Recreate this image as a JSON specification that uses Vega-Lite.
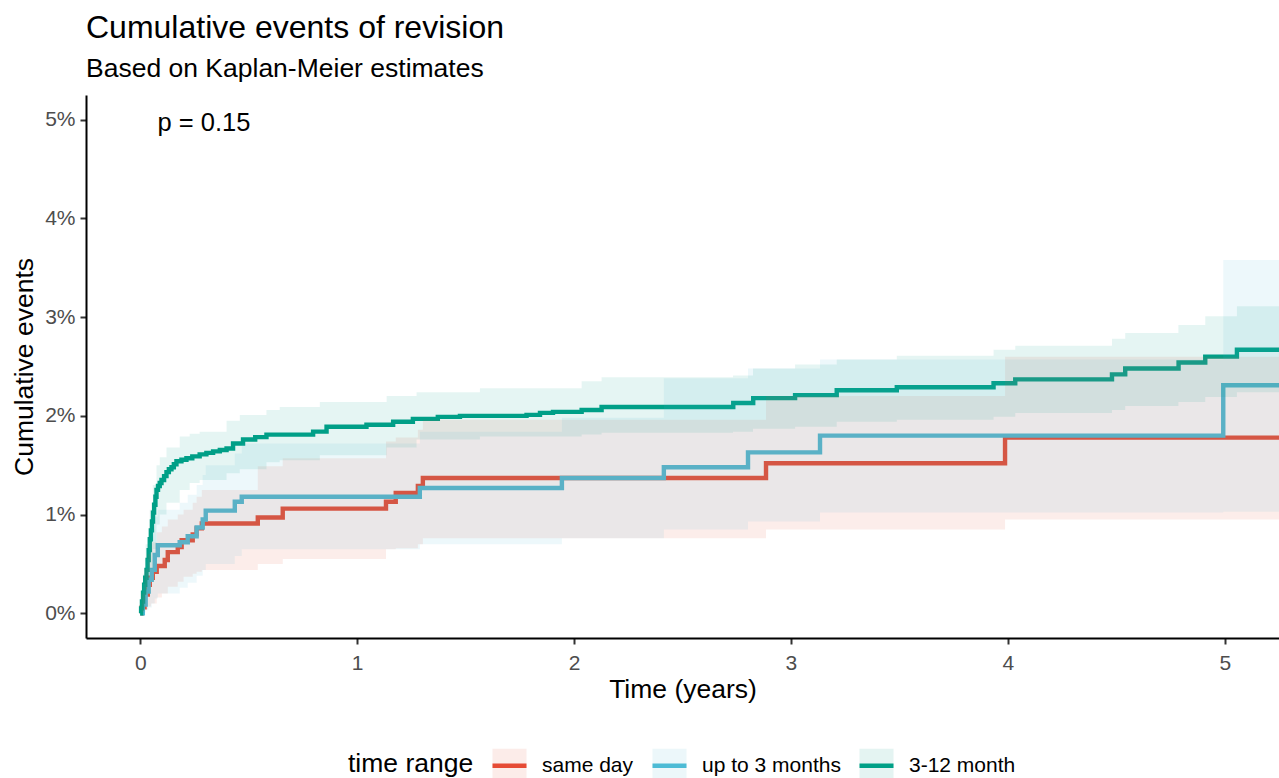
{
  "$schema": "https://vega.github.io/schema/vega-lite/v6.json",
  "autosize": "none",
  "width": 1193,
  "height": 543,
  "padding": {"left": 86, "top": 95, "right": 0, "bottom": 140},
  "background": "white",
  "title": {
    "text": "Cumulative events of revision",
    "subtitle": "Based on Kaplan-Meier estimates",
    "anchor": "start",
    "frame": "group",
    "font": "Liberation Sans",
    "fontSize": 32,
    "fontWeight": "normal",
    "color": "#000000",
    "subtitleFont": "Liberation Sans",
    "subtitleFontSize": 26.5,
    "subtitleColor": "#000000",
    "subtitlePadding": 11,
    "offset": 12
  },
  "datasets": {
    "lines": [
      {"g": "same day", "t": 0, "v": 0},
      {"g": "same day", "t": 0.007, "v": 0.06},
      {"g": "same day", "t": 0.02, "v": 0.19},
      {"g": "same day", "t": 0.035, "v": 0.29},
      {"g": "same day", "t": 0.044, "v": 0.36},
      {"g": "same day", "t": 0.058, "v": 0.42},
      {"g": "same day", "t": 0.076, "v": 0.48},
      {"g": "same day", "t": 0.113, "v": 0.54},
      {"g": "same day", "t": 0.127, "v": 0.62},
      {"g": "same day", "t": 0.173, "v": 0.67},
      {"g": "same day", "t": 0.191, "v": 0.74},
      {"g": "same day", "t": 0.242, "v": 0.8},
      {"g": "same day", "t": 0.26, "v": 0.86},
      {"g": "same day", "t": 0.284, "v": 0.91},
      {"g": "same day", "t": 0.542, "v": 0.97},
      {"g": "same day", "t": 0.657, "v": 1.06},
      {"g": "same day", "t": 1.133, "v": 1.13},
      {"g": "same day", "t": 1.178, "v": 1.22},
      {"g": "same day", "t": 1.28, "v": 1.29},
      {"g": "same day", "t": 1.303, "v": 1.37},
      {"g": "same day", "t": 2.885, "v": 1.52},
      {"g": "same day", "t": 3.987, "v": 1.78},
      {"g": "same day", "t": 5.25, "v": 1.78},
      {"g": "up to 3 months", "t": 0, "v": 0},
      {"g": "up to 3 months", "t": 0.012, "v": 0.09},
      {"g": "up to 3 months", "t": 0.025, "v": 0.22},
      {"g": "up to 3 months", "t": 0.039, "v": 0.34},
      {"g": "up to 3 months", "t": 0.053, "v": 0.44},
      {"g": "up to 3 months", "t": 0.067, "v": 0.59},
      {"g": "up to 3 months", "t": 0.081, "v": 0.69},
      {"g": "up to 3 months", "t": 0.182, "v": 0.72},
      {"g": "up to 3 months", "t": 0.219, "v": 0.78},
      {"g": "up to 3 months", "t": 0.26, "v": 0.87},
      {"g": "up to 3 months", "t": 0.288, "v": 0.95},
      {"g": "up to 3 months", "t": 0.302, "v": 1.04},
      {"g": "up to 3 months", "t": 0.436, "v": 1.13},
      {"g": "up to 3 months", "t": 0.468, "v": 1.18},
      {"g": "up to 3 months", "t": 1.289, "v": 1.27},
      {"g": "up to 3 months", "t": 1.944, "v": 1.37},
      {"g": "up to 3 months", "t": 2.414, "v": 1.48},
      {"g": "up to 3 months", "t": 2.802, "v": 1.63},
      {"g": "up to 3 months", "t": 3.134, "v": 1.8},
      {"g": "up to 3 months", "t": 4.993, "v": 2.31},
      {"g": "up to 3 months", "t": 5.25, "v": 2.31},
      {"g": "3-12 month", "t": 0, "v": 0},
      {"g": "3-12 month", "t": 0.004, "v": 0.05},
      {"g": "3-12 month", "t": 0.008, "v": 0.12},
      {"g": "3-12 month", "t": 0.013, "v": 0.21},
      {"g": "3-12 month", "t": 0.018, "v": 0.29},
      {"g": "3-12 month", "t": 0.023, "v": 0.36},
      {"g": "3-12 month", "t": 0.029, "v": 0.44},
      {"g": "3-12 month", "t": 0.034, "v": 0.54},
      {"g": "3-12 month", "t": 0.039, "v": 0.64},
      {"g": "3-12 month", "t": 0.044, "v": 0.75},
      {"g": "3-12 month", "t": 0.049, "v": 0.84},
      {"g": "3-12 month", "t": 0.054, "v": 0.93},
      {"g": "3-12 month", "t": 0.059, "v": 1.02},
      {"g": "3-12 month", "t": 0.064, "v": 1.1},
      {"g": "3-12 month", "t": 0.07, "v": 1.18},
      {"g": "3-12 month", "t": 0.075, "v": 1.25},
      {"g": "3-12 month", "t": 0.082, "v": 1.29},
      {"g": "3-12 month", "t": 0.09, "v": 1.32},
      {"g": "3-12 month", "t": 0.098, "v": 1.35},
      {"g": "3-12 month", "t": 0.11, "v": 1.39},
      {"g": "3-12 month", "t": 0.121, "v": 1.43},
      {"g": "3-12 month", "t": 0.132, "v": 1.46},
      {"g": "3-12 month", "t": 0.144, "v": 1.48},
      {"g": "3-12 month", "t": 0.155, "v": 1.51},
      {"g": "3-12 month", "t": 0.167, "v": 1.54},
      {"g": "3-12 month", "t": 0.19, "v": 1.555},
      {"g": "3-12 month", "t": 0.213, "v": 1.57},
      {"g": "3-12 month", "t": 0.24, "v": 1.59},
      {"g": "3-12 month", "t": 0.274, "v": 1.61},
      {"g": "3-12 month", "t": 0.305, "v": 1.625},
      {"g": "3-12 month", "t": 0.336, "v": 1.64},
      {"g": "3-12 month", "t": 0.367, "v": 1.655},
      {"g": "3-12 month", "t": 0.398, "v": 1.67},
      {"g": "3-12 month", "t": 0.428, "v": 1.72},
      {"g": "3-12 month", "t": 0.474, "v": 1.76},
      {"g": "3-12 month", "t": 0.53, "v": 1.785},
      {"g": "3-12 month", "t": 0.582, "v": 1.81},
      {"g": "3-12 month", "t": 0.797, "v": 1.84},
      {"g": "3-12 month", "t": 0.859, "v": 1.89},
      {"g": "3-12 month", "t": 1.043, "v": 1.91},
      {"g": "3-12 month", "t": 1.166, "v": 1.94},
      {"g": "3-12 month", "t": 1.257, "v": 1.97},
      {"g": "3-12 month", "t": 1.372, "v": 1.99},
      {"g": "3-12 month", "t": 1.474, "v": 2.0},
      {"g": "3-12 month", "t": 1.781, "v": 2.01},
      {"g": "3-12 month", "t": 1.843, "v": 2.03},
      {"g": "3-12 month", "t": 1.903, "v": 2.04},
      {"g": "3-12 month", "t": 2.035, "v": 2.06},
      {"g": "3-12 month", "t": 2.127, "v": 2.09},
      {"g": "3-12 month", "t": 2.734, "v": 2.13},
      {"g": "3-12 month", "t": 2.826, "v": 2.18},
      {"g": "3-12 month", "t": 3.019, "v": 2.21},
      {"g": "3-12 month", "t": 3.211, "v": 2.26},
      {"g": "3-12 month", "t": 3.488, "v": 2.29},
      {"g": "3-12 month", "t": 3.934, "v": 2.33},
      {"g": "3-12 month", "t": 4.034, "v": 2.37},
      {"g": "3-12 month", "t": 4.48, "v": 2.42},
      {"g": "3-12 month", "t": 4.541, "v": 2.48},
      {"g": "3-12 month", "t": 4.787, "v": 2.54},
      {"g": "3-12 month", "t": 4.91, "v": 2.6},
      {"g": "3-12 month", "t": 5.056, "v": 2.67},
      {"g": "3-12 month", "t": 5.25, "v": 2.67}
    ],
    "bands": [
      {"grp": "same day", "t": 0, "lo": 0, "hi": 0},
      {"grp": "same day", "t": 0.007, "lo": 0.01, "hi": 0.2},
      {"grp": "same day", "t": 0.02, "lo": 0.04, "hi": 0.45},
      {"grp": "same day", "t": 0.035, "lo": 0.07, "hi": 0.6},
      {"grp": "same day", "t": 0.05, "lo": 0.1, "hi": 0.72},
      {"grp": "same day", "t": 0.076, "lo": 0.16, "hi": 0.82},
      {"grp": "same day", "t": 0.1, "lo": 0.2, "hi": 0.88},
      {"grp": "same day", "t": 0.127, "lo": 0.27, "hi": 0.95},
      {"grp": "same day", "t": 0.173, "lo": 0.32, "hi": 1.0},
      {"grp": "same day", "t": 0.2, "lo": 0.37, "hi": 1.05},
      {"grp": "same day", "t": 0.242, "lo": 0.4, "hi": 1.12},
      {"grp": "same day", "t": 0.26, "lo": 0.42, "hi": 1.18},
      {"grp": "same day", "t": 0.284, "lo": 0.44, "hi": 1.25},
      {"grp": "same day", "t": 0.542, "lo": 0.5, "hi": 1.49},
      {"grp": "same day", "t": 0.657, "lo": 0.55, "hi": 1.57},
      {"grp": "same day", "t": 1.133, "lo": 0.65, "hi": 1.74},
      {"grp": "same day", "t": 1.178, "lo": 0.66, "hi": 1.78},
      {"grp": "same day", "t": 1.28, "lo": 0.7, "hi": 1.86},
      {"grp": "same day", "t": 1.303, "lo": 0.76, "hi": 1.96},
      {"grp": "same day", "t": 2.885, "lo": 0.85, "hi": 2.2},
      {"grp": "same day", "t": 3.987, "lo": 0.95, "hi": 2.6},
      {"grp": "same day", "t": 5.25, "lo": 0.95, "hi": 2.6},
      {"grp": "up to 3 months", "t": 0, "lo": 0, "hi": 0},
      {"grp": "up to 3 months", "t": 0.012, "lo": 0.01, "hi": 0.3},
      {"grp": "up to 3 months", "t": 0.025, "lo": 0.03, "hi": 0.55},
      {"grp": "up to 3 months", "t": 0.039, "lo": 0.06, "hi": 0.72},
      {"grp": "up to 3 months", "t": 0.053, "lo": 0.1, "hi": 0.85},
      {"grp": "up to 3 months", "t": 0.067, "lo": 0.15, "hi": 0.98},
      {"grp": "up to 3 months", "t": 0.081, "lo": 0.2, "hi": 1.05},
      {"grp": "up to 3 months", "t": 0.182, "lo": 0.26, "hi": 1.12},
      {"grp": "up to 3 months", "t": 0.219, "lo": 0.31, "hi": 1.2},
      {"grp": "up to 3 months", "t": 0.26, "lo": 0.38, "hi": 1.3},
      {"grp": "up to 3 months", "t": 0.288, "lo": 0.44, "hi": 1.4},
      {"grp": "up to 3 months", "t": 0.302, "lo": 0.5, "hi": 1.5},
      {"grp": "up to 3 months", "t": 0.436, "lo": 0.58, "hi": 1.62},
      {"grp": "up to 3 months", "t": 0.468, "lo": 0.65, "hi": 1.72},
      {"grp": "up to 3 months", "t": 1.289, "lo": 0.7, "hi": 1.84},
      {"grp": "up to 3 months", "t": 1.944, "lo": 0.76, "hi": 1.98},
      {"grp": "up to 3 months", "t": 2.414, "lo": 0.85, "hi": 2.38},
      {"grp": "up to 3 months", "t": 2.802, "lo": 0.93, "hi": 2.48},
      {"grp": "up to 3 months", "t": 3.134, "lo": 1.02, "hi": 2.57},
      {"grp": "up to 3 months", "t": 4.993, "lo": 1.03, "hi": 3.58},
      {"grp": "up to 3 months", "t": 5.25, "lo": 1.03, "hi": 3.58},
      {"grp": "3-12 month", "t": 0, "lo": 0, "hi": 0},
      {"grp": "3-12 month", "t": 0.012, "lo": 0.05, "hi": 0.4},
      {"grp": "3-12 month", "t": 0.025, "lo": 0.2, "hi": 0.7},
      {"grp": "3-12 month", "t": 0.044, "lo": 0.45, "hi": 1.05},
      {"grp": "3-12 month", "t": 0.058, "lo": 0.65, "hi": 1.3},
      {"grp": "3-12 month", "t": 0.075, "lo": 0.9, "hi": 1.5},
      {"grp": "3-12 month", "t": 0.09, "lo": 1.0, "hi": 1.58},
      {"grp": "3-12 month", "t": 0.121, "lo": 1.12, "hi": 1.68},
      {"grp": "3-12 month", "t": 0.182, "lo": 1.25, "hi": 1.79},
      {"grp": "3-12 month", "t": 0.228, "lo": 1.32, "hi": 1.82},
      {"grp": "3-12 month", "t": 0.274, "lo": 1.35, "hi": 1.84},
      {"grp": "3-12 month", "t": 0.398, "lo": 1.42, "hi": 1.95},
      {"grp": "3-12 month", "t": 0.459, "lo": 1.46, "hi": 2.01},
      {"grp": "3-12 month", "t": 0.582, "lo": 1.53, "hi": 2.06},
      {"grp": "3-12 month", "t": 0.643, "lo": 1.55, "hi": 2.09},
      {"grp": "3-12 month", "t": 0.828, "lo": 1.6, "hi": 2.14},
      {"grp": "3-12 month", "t": 1.136, "lo": 1.68, "hi": 2.2},
      {"grp": "3-12 month", "t": 1.274, "lo": 1.76, "hi": 2.24},
      {"grp": "3-12 month", "t": 1.566, "lo": 1.79, "hi": 2.28},
      {"grp": "3-12 month", "t": 2.035, "lo": 1.81, "hi": 2.35},
      {"grp": "3-12 month", "t": 2.127, "lo": 1.83, "hi": 2.39},
      {"grp": "3-12 month", "t": 2.733, "lo": 1.84, "hi": 2.41},
      {"grp": "3-12 month", "t": 2.825, "lo": 1.87, "hi": 2.48},
      {"grp": "3-12 month", "t": 3.019, "lo": 1.89, "hi": 2.52},
      {"grp": "3-12 month", "t": 3.211, "lo": 1.94, "hi": 2.57},
      {"grp": "3-12 month", "t": 3.488, "lo": 1.96, "hi": 2.61},
      {"grp": "3-12 month", "t": 3.934, "lo": 1.99, "hi": 2.67},
      {"grp": "3-12 month", "t": 4.034, "lo": 2.03, "hi": 2.71},
      {"grp": "3-12 month", "t": 4.48, "lo": 2.06, "hi": 2.78},
      {"grp": "3-12 month", "t": 4.541, "lo": 2.1, "hi": 2.84},
      {"grp": "3-12 month", "t": 4.786, "lo": 2.14, "hi": 2.92},
      {"grp": "3-12 month", "t": 4.91, "lo": 2.19, "hi": 3.01},
      {"grp": "3-12 month", "t": 5.056, "lo": 2.24, "hi": 3.11},
      {"grp": "3-12 month", "t": 5.25, "lo": 2.24, "hi": 3.11}
    ],
    "note": [{"t": 0.08, "v": 4.97, "label": "p = 0.15"}]
  },
  "layer": [
    {
      "data": {"name": "lines"},
      "mark": {"type": "line", "interpolate": "step-after", "strokeWidth": 4.4, "clip": true},
      "encoding": {
        "x": {"field": "t", "type": "quantitative", "scale": {"domain": [-0.25, 5.25], "nice": false, "zero": false},
          "axis": {"values": [0, 1, 2, 3, 4, 5], "format": "d", "title": "Time (years)", "labelPadding": 8, "titlePadding": 3}},
        "y": {"field": "v", "type": "quantitative", "scale": {"domain": [-0.25, 5.25], "nice": false, "zero": false},
          "axis": {"values": [0, 1, 2, 3, 4, 5], "title": "Cumulative events", "labelExpr": "datum.value + '%'", "labelPadding": 5, "titlePadding": 6}},
        "stroke": {"field": "g", "type": "nominal", "sort": ["same day", "up to 3 months", "3-12 month"],
          "scale": {"range": ["#E64B35", "#4DBBD5", "#00A087"]},
          "legend": {"title": "time range", "orient": "none", "legendX": 262, "legendY": 651, "direction": "horizontal",
            "titleOrient": "left", "titleFontSize": 26.5, "titleFontWeight": "normal", "titleColor": "transparent",
            "titlePadding": 16, "titleAnchor": "start", "titleBaseline": "line-top", "titleLineHeight": 37,
            "labelFontSize": 21, "labelColor": "transparent", "labelOffset": 13, "columnPadding": 9, "padding": 0,
            "symbolType": "stroke", "symbolSize": 1156, "symbolStrokeWidth": 4.4, "symbolOpacity": 1}}
      }
    },
    {
      "data": {"name": "bands"},
      "mark": {"type": "area", "interpolate": "step-after", "opacity": 0.1, "clip": true},
      "encoding": {
        "x": {"field": "t", "type": "quantitative"},
        "y": {"field": "lo", "type": "quantitative"},
        "y2": {"field": "hi"},
        "fill": {"field": "grp", "type": "nominal", "sort": ["same day", "up to 3 months", "3-12 month"],
          "scale": {"range": ["#E64B35", "#4DBBD5", "#00A087"]},
          "legend": {"title": "time range", "orient": "none", "legendX": 262, "legendY": 651, "direction": "horizontal",
            "titleOrient": "left", "titleFontSize": 26.5, "titleFontWeight": "normal", "titleColor": "#000000",
            "titlePadding": 16, "titleAnchor": "start", "titleBaseline": "line-top", "titleLineHeight": 37,
            "labelFontSize": 21, "labelColor": "#000000", "labelOffset": 13, "columnPadding": 9, "padding": 0,
            "symbolType": "square", "symbolSize": 1156, "symbolStrokeWidth": 4.4, "symbolStrokeColor": "transparent", "symbolOpacity": 0.1}}
      }
    },
    {
      "data": {"name": "note"},
      "mark": {"type": "text", "align": "left", "baseline": "middle", "fontSize": 25.5, "font": "Liberation Sans", "color": "#000000"},
      "encoding": {
        "x": {"field": "t", "type": "quantitative"},
        "y": {"field": "v", "type": "quantitative"},
        "text": {"field": "label"}
      }
    }
  ],
  "config": {
    "font": "Liberation Sans",
    "view": {"stroke": null},
    "axis": {
      "grid": false,
      "domainColor": "#000000",
      "domainWidth": 2,
      "tickColor": "#333333",
      "tickWidth": 2,
      "tickSize": 6,
      "labelColor": "#4D4D4D",
      "labelFontSize": 21,
      "labelFont": "Liberation Sans",
      "titleFont": "Liberation Sans",
      "titleFontSize": 26.5,
      "titleFontWeight": "normal",
      "titleColor": "#000000"
    },
    "legend": {"labelFont": "Liberation Sans", "titleFont": "Liberation Sans"}
  }
}
